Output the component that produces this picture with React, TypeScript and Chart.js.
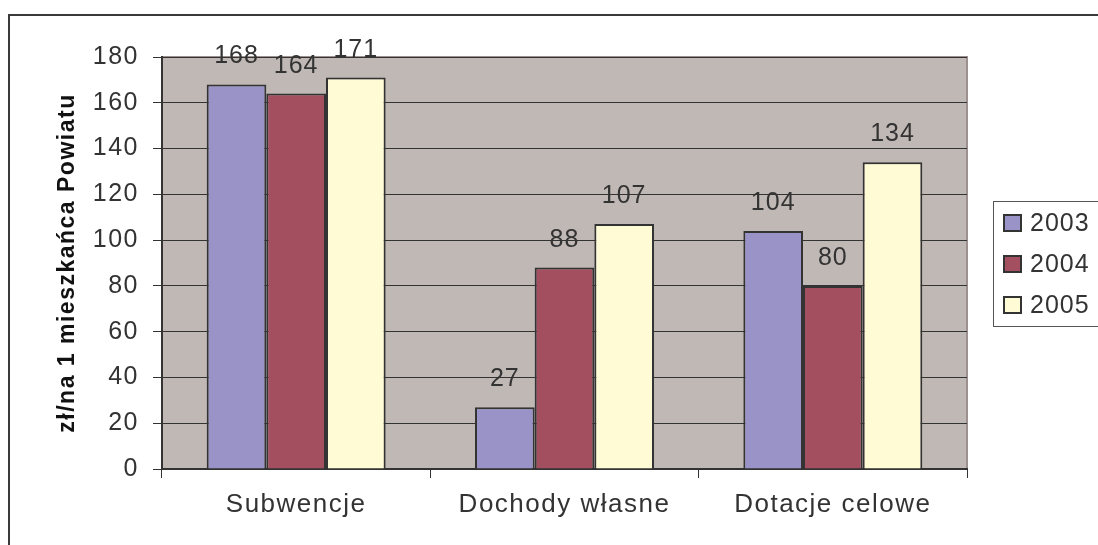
import React, { useEffect, useRef } from "react";
import { Chart, registerables } from "chart.js";

Chart.register(...registerables);

const categories = ["Subwencje", "Dochody własne", "Dotacje celowe"];
const seriesLabels = ["2003", "2004", "2005"];
const values2003 = [168, 27, 104];
const values2004 = [164, 88, 80];
const values2005 = [171, 107, 134];
const yTicks = [0, 20, 40, 60, 80, 100, 120, 140, 160, 180];
const yTitle = "zł/na 1 mieszkańca Powiatu";

const COLORS = ["#9A93C8", "#A34F5F", "#FFFBD5"];
const FONT = "'Liberation Sans', Arial, Helvetica, sans-serif";
const TEXT = "#333333";

const framePlugin = {
  id: "frame",
  beforeDraw(chart: any) {
    const { ctx, chartArea: a } = chart;
    ctx.save();
    ctx.fillStyle = "#ffffff";
    ctx.fillRect(0, 0, chart.width, chart.height);
    ctx.fillStyle = "#C0B8B5";
    ctx.fillRect(a.left, a.top, a.right - a.left, a.bottom - a.top);
    ctx.strokeStyle = "#9C918F";
    ctx.lineWidth = 2;
    ctx.beginPath();
    ctx.moveTo(a.left, a.top);
    ctx.lineTo(a.right, a.top);
    ctx.lineTo(a.right, a.bottom);
    ctx.stroke();
    // outer border
    ctx.strokeStyle = "#3a3a3a";
    ctx.lineWidth = 2;
    ctx.beginPath();
    ctx.moveTo(9, chart.height + 5);
    ctx.lineTo(9, 15);
    ctx.lineTo(chart.width + 5, 15);
    ctx.stroke();
    ctx.restore();
    (ctx as any).letterSpacing = "1.5px";
  },
  afterDatasetsDraw(chart: any) {
    const { ctx } = chart;
    ctx.save();
    (ctx as any).letterSpacing = "1px";
    ctx.font = `25px ${FONT}`;
    ctx.fillStyle = TEXT;
    ctx.textAlign = "center";
    ctx.textBaseline = "alphabetic";
    chart.data.datasets.forEach((ds: any, i: number) => {
      const meta = chart.getDatasetMeta(i);
      meta.data.forEach((bar: any, j: number) => {
        ctx.fillText(String(ds.data[j]), bar.x, bar.y - 21);
      });
    });
    // legend
    const lx = 993, ly = 201, lw = 120, lh = 125;
    ctx.strokeStyle = "#555555";
    ctx.lineWidth = 1;
    ctx.strokeRect(lx + 0.5, ly + 0.5, lw, lh);
    ctx.textAlign = "left";
    ctx.textBaseline = "middle";
    chart.data.datasets.forEach((ds: any, i: number) => {
      const cy = 223 + i * 41;
      ctx.fillStyle = ds.backgroundColor;
      ctx.fillRect(1004, cy - 8, 17, 16);
      ctx.strokeStyle = "#333333";
      ctx.lineWidth = 2;
      ctx.strokeRect(1004, cy - 8, 17, 16);
      ctx.fillStyle = TEXT;
      ctx.fillText(ds.label, 1030, cy + 1);
    });
    ctx.restore();
  },
};

export default function App() {
  const ref = useRef<HTMLCanvasElement>(null);
  useEffect(() => {
    if (!ref.current) return;
    const data = [values2003, values2004, values2005];
    const chart = new Chart(ref.current, {
      type: "bar",
      data: {
        labels: categories,
        datasets: seriesLabels.map((l, i) => ({
          label: l,
          data: data[i],
          backgroundColor: COLORS[i],
          borderColor: "#333333",
          borderWidth: 2,
          categoryPercentage: 0.667,
          barPercentage: 1.0,
        })),
      },
      options: {
        animation: false,
        responsive: false,
        maintainAspectRatio: false,
        layout: { padding: { left: 54, top: 57, right: 131, bottom: 0 } },
        plugins: { legend: { display: false }, tooltip: { enabled: false } },
        scales: {
          x: {
            grid: {
              offset: true,
              drawOnChartArea: false,
              drawTicks: true,
              tickLength: 9,
              color: "#333333",
              lineWidth: 1,
            },
            border: { color: "#333333", width: 2 },
            ticks: { color: TEXT, font: { family: FONT, size: 26 }, padding: 11 },
            afterFit: (s: any) => { s.height = 76; },
          },
          y: {
            min: 0,
            max: 180,
            afterBuildTicks: (s: any) => { s.ticks = yTicks.map((v) => ({ value: v })); },
            grid: { color: "#333333", lineWidth: 1, tickLength: 9 },
            border: { color: "#333333", width: 2 },
            ticks: { color: TEXT, font: { family: FONT, size: 25 }, padding: 14 },
            title: {
              display: true,
              text: yTitle,
              color: "#111111",
              font: { family: FONT, size: 23, weight: "bold" },
              padding: { top: 0, bottom: 0 },
            },
            afterFit: (s: any) => { s.width = 108; },
          },
        },
      } as any,
      plugins: [framePlugin],
    });
    return () => chart.destroy();
  }, []);
  return (
    <div style={{ position: "fixed", left: 0, top: 0, width: 1098, height: 545, background: "#fff" }}>
      <canvas ref={ref} width={1098} height={545} style={{ width: 1098, height: 545 }} />
    </div>
  );
}
